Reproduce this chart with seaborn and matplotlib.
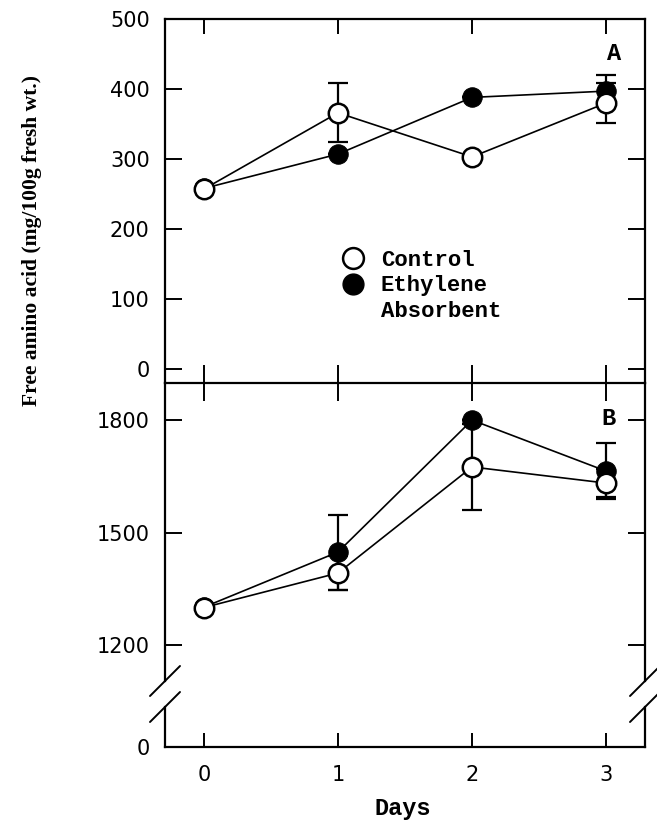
import matplotlib
matplotlib.use("Agg")
import matplotlib.pyplot as plt
from matplotlib.lines import Line2D
import seaborn as sns
import pandas as pd

# Data
days = [0, 1, 2, 3]
ctrl_a = [257, 366, 303, 380]
ctrl_a_err = [0, 42, 0, 29]
eth_a = [258, 307, 388, 397]
eth_a_err = [0, 0, 0, 23]
ctrl_b = [1300, 1392, 1675, 1632]
ctrl_b_err = [0, 45, 115, 37]
eth_b = [1301, 1448, 1800, 1664]
eth_b_err = [0, 100, 0, 75]

sns.set_style("ticks")
plt.rcParams["font.family"] = ["DejaVu Sans"]
for key in ("text.color", "axes.edgecolor", "xtick.color", "ytick.color",
            "axes.labelcolor"):
    plt.rcParams[key] = "black"
MONO = "Liberation Mono"
W, H = 657, 821
fig = plt.figure(figsize=(W / 100, H / 100), dpi=100)


def px_box(left, top, right, bottom):
    return [left / W, 1 - bottom / H, (right - left) / W, (bottom - top) / H]


ax_a = fig.add_axes(px_box(165, 19, 645, 383))
ax_b = fig.add_axes(px_box(165, 383, 645, 681))
ax_c = fig.add_axes(px_box(165, 707, 645, 747))


def draw_panel(ax, ctrl, ctrl_err, eth, eth_err):
    df = pd.DataFrame({"day": days, "ctrl": ctrl, "eth": eth})
    ax.errorbar(days, ctrl, yerr=ctrl_err, fmt="none", ecolor="black",
                elinewidth=1.6, capsize=7, capthick=1.6, zorder=1)
    ax.errorbar(days, eth, yerr=eth_err, fmt="none", ecolor="black",
                elinewidth=1.6, capsize=7, capthick=1.6, zorder=1)
    sns.lineplot(data=df, x="day", y="eth", ax=ax, color="black", lw=1.2,
                 marker="o", markersize=14, markerfacecolor="black",
                 markeredgecolor="black", zorder=3)
    sns.lineplot(data=df, x="day", y="ctrl", ax=ax, color="black", lw=1.2,
                 marker="o", markersize=14, markerfacecolor="white",
                 markeredgecolor="black", markeredgewidth=1.8, zorder=4)
    ax.set_xlabel("")
    ax.set_ylabel("")


draw_panel(ax_a, ctrl_a, ctrl_a_err, eth_a, eth_a_err)
draw_panel(ax_b, ctrl_b, ctrl_b_err, eth_b, eth_b_err)

for ax in (ax_a, ax_b, ax_c):
    ax.set_xlim(-0.29, 3.29)
    ax.set_facecolor("none")
    for s in ax.spines.values():
        s.set_linewidth(1.6)
    ax.tick_params(axis="y", direction="in", length=12, width=1.4,
                   left=True, right=True, labelsize=15, pad=11)

# panel A
ax_a.set_ylim(-20, 500)
ax_a.set_yticks([0, 100, 200, 300, 400, 500])
ax_a.set_xticks(days)
ax_a.tick_params(axis="x", which="both", top=True, bottom=True,
                 labelbottom=False, width=1.4)
ax_a.tick_params(axis="x", direction="inout", length=26)
for t in ax_a.xaxis.get_major_ticks():
    t.tick2line.set_marker(3)  # inward from top
    t.tick2line.set_markersize(11)

# panel B (upper part of broken axis)
ax_b.set_ylim(1104, 1899)
ax_b.set_yticks([1200, 1500, 1800])
ax_b.set_xticks([])
ax_b.spines["top"].set_visible(False)
ax_b.spines["bottom"].set_visible(False)

# lower stub of broken axis
ax_c.set_ylim(0, 100)
ax_c.set_yticks([0])
ax_c.tick_params(axis="y", right=False)
ax_c.set_xticks(days)
ax_c.set_xticklabels([str(d) for d in days])
ax_c.tick_params(axis="x", direction="in", length=10, width=1.4,
                 labelsize=15, pad=13)
ax_c.spines["top"].set_visible(False)

# break marks
for x in (165, 645):
    for y in (681, 707):
        fig.add_artist(Line2D([(x - 15) / W, (x + 15) / W],
                              [1 - (y + 15) / H, 1 - (y - 15) / H],
                              transform=fig.transFigure, color="black", lw=1.4))

# panel letters
ax_a.text(0.935, 0.905, "A", transform=ax_a.transAxes, family=MONO,
          fontweight="bold", fontsize=17, ha="center", va="center")
ax_b.text(0.924, 0.88, "B", transform=ax_b.transAxes, family=MONO,
          fontweight="bold", fontsize=17, ha="center", va="center")

# legend
handles = [
    Line2D([], [], ls="none", marker="o", markersize=15, markerfacecolor="white",
           markeredgecolor="black", markeredgewidth=1.8),
    Line2D([], [], ls="none", marker="o", markersize=15, markerfacecolor="black",
           markeredgecolor="black"),
    Line2D([], [], ls="none"),
]
leg = ax_a.legend(handles, ["Control", "Ethylene", "Absorbent"],
                  loc="upper left", bbox_to_anchor=(342 / W, 1 - 250 / H),
                  bbox_transform=fig.transFigure, frameon=False,
                  handlelength=1.0, handletextpad=0.75, labelspacing=0.2,
                  borderpad=0, borderaxespad=0,
                  prop={"family": MONO, "weight": "bold", "size": 16})

# axis labels
fig.text(32 / W, 1 - 241 / H, "Free amino acid (mg/100g fresh wt.)",
         rotation=90, ha="center", va="center", family="Liberation Serif",
         fontweight="bold", fontsize=15.5)
fig.text(403 / W, 1 - 808 / H, "Days", ha="center", va="center",
         family=MONO, fontweight="bold", fontsize=17)

fig.savefig("out.png", dpi=100)
